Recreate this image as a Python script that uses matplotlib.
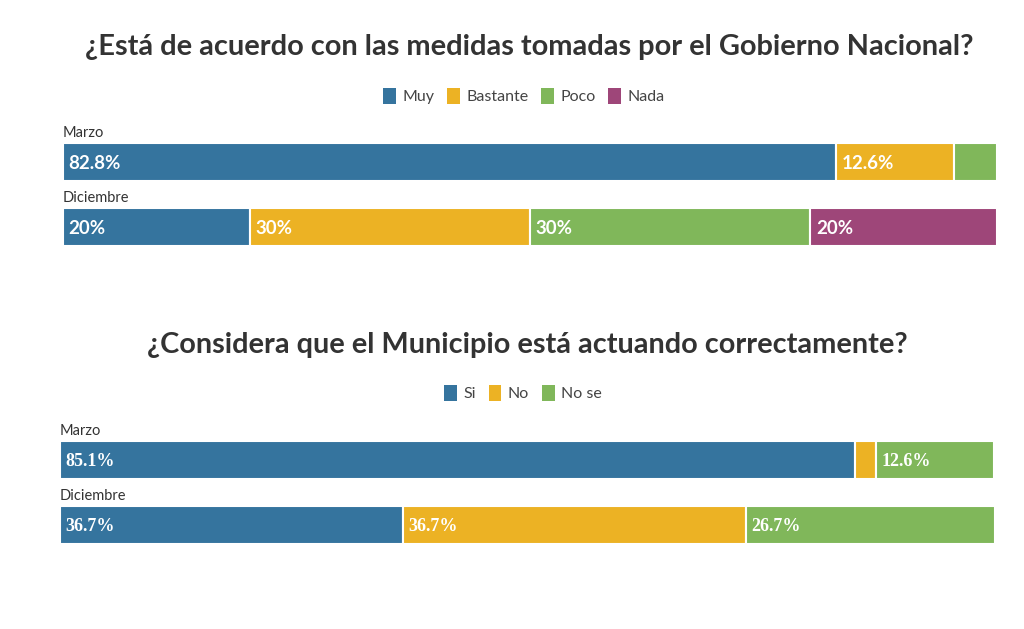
import matplotlib
matplotlib.use("Agg")
import matplotlib.pyplot as plt
from matplotlib.patches import Patch

# data
periods = ["Marzo", "Diciembre"]

gob_cats = ["Muy", "Bastante", "Poco", "Nada"]
gob_vals = {"Muy": [82.8, 20], "Bastante": [12.6, 30], "Poco": [4.6, 30], "Nada": [0, 20]}

mun_cats = ["Si", "No", "No se"]
mun_vals = {"Si": [85.1, 36.7], "No": [2.3, 36.7], "No se": [12.6, 26.7]}

colors = {"Muy": "#35749e", "Bastante": "#ecb224", "Poco": "#80b75a", "Nada": "#9e4679",
          "Si": "#35749e", "No": "#ecb224", "No se": "#80b75a"}

plt.rcParams["font.family"] = ["Lato", "DejaVu Sans"]

W, H = 1024, 629
fig = plt.figure(figsize=(W / 100, H / 100), dpi=100)


def px_axes(x0, y0, x1, y1):
    return fig.add_axes([x0 / W, 1 - y1 / H, (x1 - x0) / W, (y1 - y0) / H])


def stacked(ax, cats, vals, label_font, label_size):
    h = 38 / 65
    for i, p in enumerate(periods):
        left = 0
        for c in cats:
            v = vals[c][i]
            if v > 0:
                ax.barh(i, v, left=left, height=h, color=colors[c],
                        edgecolor="white", linewidth=1.5)
                if v >= 8:
                    ax.text(left + 0.6, i + 0.03, f"{v:g}%", color="white",
                            fontsize=label_size, fontweight="bold",
                            family=label_font, va="center", ha="left")
            left += v
        ax.text(0, i - h / 2 - 0.04, p, fontsize=10.5, color="#333333",
                va="bottom", ha="left")
    ax.set_xlim(0, 100)
    ax.set_ylim(1 + h / 2, -h / 2)
    ax.axis("off")


# top chart
fig.text(529 / W, 1 - 47 / H, "¿Está de acuerdo con las medidas tomadas por el Gobierno Nacional?",
         ha="center", va="center", fontsize=20.9, fontweight="bold", color="#333333")
ax1 = px_axes(63, 143, 997, 246)
stacked(ax1, gob_cats, gob_vals, ["Lato", "DejaVu Sans"], 13.5)
fig.legend(handles=[Patch(facecolor=colors[c], label=c) for c in gob_cats],
           loc="center", bbox_to_anchor=(524 / W, 1 - 96 / H), ncol=4, frameon=False,
           fontsize=11.5, handlelength=0.8, handleheight=1.2, handletextpad=0.4,
           columnspacing=0.8, labelcolor="#444444")

# bottom chart
fig.text(527 / W, 1 - 345 / H, "¿Considera que el Municipio está actuando correctamente?",
         ha="center", va="center", fontsize=20.8, fontweight="bold", color="#333333")
ax2 = px_axes(60, 441, 994, 544)
stacked(ax2, mun_cats, mun_vals, ["Liberation Serif", "DejaVu Serif"], 13)
fig.legend(handles=[Patch(facecolor=colors[c], label=c) for c in mun_cats],
           loc="center", bbox_to_anchor=(523 / W, 1 - 393 / H), ncol=3, frameon=False,
           fontsize=11.5, handlelength=0.8, handleheight=1.2, handletextpad=0.4,
           columnspacing=0.8, labelcolor="#444444")

fig.savefig("out.png", dpi=100)
